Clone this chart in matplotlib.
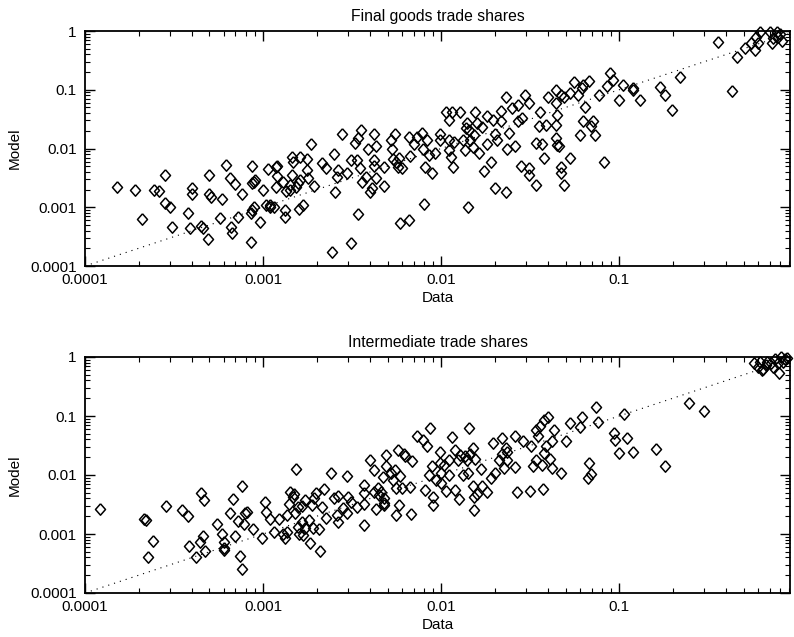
import matplotlib
matplotlib.use("Agg")
import matplotlib.pyplot as plt

plt.rcParams['font.family'] = ['Liberation Sans', 'DejaVu Sans']

# Final goods trade shares: observed (data) vs. predicted (model)
final_data = [
    1.52e-4, 1.9e-4, 2.08e-4, 2.44e-4, 2.6e-4, 2.8e-4, 2.8e-4, 3.0e-4, 3.1e-4, 3.8e-4,
    3.9e-4, 4.0e-4, 4.0e-4, 4.5e-4, 4.6e-4, 4.9e-4, 5.0e-4, 5.0e-4, 5.1e-4, 5.7e-4,
    5.9e-4, 6.2e-4, 6.5e-4, 6.6e-4, 6.7e-4, 7.0e-4, 7.2e-4, 7.6e-4, 8.6e-4, 8.7e-4,
    8.7e-4, 8.9e-4, 9.0e-4, 8.7e-4, 8.9e-4, 8.5e-4, 9.6e-4, 1.0e-3, 1.04e-3, 1.09e-3,
    1.1e-3, 1.15e-3, 1.07e-3, 1.18e-3, 1.2e-3, 1.18e-3, 1.2e-3, 1.29e-3, 1.33e-3, 1.33e-3,
    1.35e-3, 1.41e-3, 1.45e-3, 1.48e-3, 1.45e-3, 1.58e-3, 1.59e-3, 1.41e-3, 1.54e-3, 1.61e-3,
    1.61e-3, 1.68e-3, 1.76e-3, 1.77e-3, 1.79e-3, 1.86e-3, 1.94e-3, 2.14e-3, 2.26e-3, 2.43e-3,
    2.5e-3, 2.55e-3, 2.6e-3, 2.65e-3, 2.77e-3, 2.95e-3, 3.1e-3, 3.1e-3, 3.3e-3, 3.4e-3,
    3.35e-3, 3.4e-3, 3.5e-3, 3.55e-3, 3.6e-3, 3.9e-3, 3.8e-3, 4.0e-3, 4.1e-3, 4.2e-3,
    4.2e-3, 4.3e-3, 4.2e-3, 4.3e-3, 4.8e-3, 4.8e-3, 5.2e-3, 5.3e-3, 5.5e-3, 5.4e-3,
    5.6e-3, 5.7e-3, 5.8e-3, 6.0e-3, 5.9e-3, 6.6e-3, 6.6e-3, 6.7e-3, 7.0e-3, 7.3e-3,
    7.8e-3, 7.9e-3, 8.0e-3, 8.1e-3, 8.3e-3, 8.5e-3, 8.9e-3, 9.2e-3, 9.8e-3, 9.9e-3,
    0.0107, 0.011, 0.011, 0.0114, 0.0116, 0.0115, 0.011, 0.0118, 0.0128, 0.0133,
    0.0137, 0.0138, 0.014, 0.0142, 0.0143, 0.0145, 0.015, 0.0153, 0.0155, 0.0158,
    0.0163, 0.017, 0.0175, 0.018, 0.018, 0.019, 0.0195, 0.020, 0.020, 0.0205,
    0.0216, 0.0216, 0.023, 0.023, 0.0234, 0.024, 0.025, 0.026, 0.027, 0.027,
    0.028, 0.0285, 0.0295, 0.031, 0.031, 0.031, 0.034, 0.034, 0.036, 0.0355,
    0.037, 0.038, 0.039, 0.040, 0.044, 0.044, 0.044, 0.044, 0.045, 0.045,
    0.046, 0.047, 0.047, 0.047, 0.049, 0.049, 0.053, 0.053, 0.056, 0.060,
    0.059, 0.062, 0.063, 0.064, 0.063, 0.068, 0.069, 0.071, 0.073, 0.077,
    0.082, 0.085, 0.089, 0.092, 0.10, 0.105, 0.12, 0.12, 0.13, 0.17,
    0.18, 0.198, 0.22, 0.36, 0.43, 0.46, 0.51, 0.55, 0.58, 0.59,
    0.62, 0.60, 0.70, 0.72, 0.73, 0.77, 0.78, 0.82, 0.80,
]
final_model = [
    2.2e-3, 2.0e-3, 6.2e-4, 2.0e-3, 1.9e-3, 3.6e-3, 1.2e-3, 1.0e-3, 4.6e-4, 7.9e-4,
    4.5e-4, 2.1e-3, 1.7e-3, 4.8e-4, 4.5e-4, 2.9e-4, 3.5e-3, 1.7e-3, 1.5e-3, 6.5e-4,
    1.4e-3, 5.2e-3, 3.1e-3, 4.7e-4, 3.7e-4, 2.5e-3, 6.8e-4, 1.7e-3, 2.6e-4, 5.1e-3,
    2.6e-3, 2.7e-3, 2.9e-3, 9.0e-4, 1.0e-3, 7.9e-4, 5.7e-4, 2.0e-3, 1.1e-3, 1.0e-3,
    1.1e-3, 1.0e-3, 4.5e-3, 4.9e-3, 5.0e-3, 2.2e-3, 3.4e-3, 2.7e-3, 9.0e-4, 6.9e-4,
    1.9e-3, 2.0e-3, 7.1e-3, 6.0e-3, 3.5e-3, 2.6e-3, 9.5e-4, 2.4e-3, 2.2e-3, 7.3e-3,
    2.9e-3, 1.1e-3, 6.6e-3, 4.3e-3, 3.1e-3, 1.2e-2, 2.3e-3, 5.7e-3, 4.6e-3, 1.7e-4,
    8.0e-3, 1.8e-3, 3.3e-3, 4.3e-3, 1.77e-2, 3.8e-3, 2.5e-4, 6.4e-3, 1.26e-2, 1.5e-2,
    6.4e-3, 7.7e-4, 4.6e-3, 2.1e-2, 2.7e-3, 9.7e-3, 3.3e-3, 1.8e-3, 2.1e-3, 6.4e-3,
    1.77e-2, 1.1e-2, 5.0e-3, 3.1e-3, 4.9e-3, 2.3e-3, 1.4e-2, 1.0e-2, 1.77e-2, 6.6e-3,
    5.8e-3, 4.9e-3, 6.8e-3, 4.6e-3, 5.3e-4, 6.1e-4, 1.6e-2, 7.5e-3, 1.2e-2, 1.6e-2,
    1.86e-2, 1.0e-2, 1.14e-3, 4.8e-3, 1.4e-2, 7.7e-3, 3.8e-3, 8.3e-3, 1.77e-2, 1.4e-2,
    4.2e-2, 1.4e-2, 9.5e-3, 7.3e-3, 4.9e-3, 4.2e-2, 3.1e-2, 1.3e-2, 4.1e-2, 1.4e-2,
    9.5e-3, 2.2e-2, 2.75e-2, 1.0e-3, 2.1e-2, 1.4e-2, 1.04e-2, 1.7e-2, 4.1e-2, 2.75e-2,
    8.3e-3, 2.3e-2, 4.2e-3, 1.2e-2, 3.6e-2, 6.0e-3, 3.0e-2, 1.8e-2, 2.1e-3, 1.4e-2,
    4.4e-2, 2.9e-2, 7.6e-2, 1.8e-3, 1.0e-2, 1.86e-2, 4.8e-2, 1.1e-2, 5.5e-2, 2.9e-2,
    5.0e-3, 3.3e-2, 8.1e-2, 3.5e-3, 5.9e-2, 4.6e-3, 2.4e-3, 1.26e-2, 4.2e-2, 2.4e-2,
    1.2e-2, 6.8e-3, 2.5e-2, 7.4e-2, 0.10, 5.9e-2, 2.5e-2, 1.5e-2, 3.7e-2, 1.15e-2,
    1.1e-2, 8.1e-2, 4.9e-3, 3.8e-3, 2.4e-3, 7.6e-2, 6.8e-3, 8.9e-2, 0.137, 1.7e-2,
    8.1e-2, 0.106, 0.12, 5.1e-2, 2.9e-2, 0.143, 2.4e-2, 2.9e-2, 1.7e-2, 8.1e-2,
    6.0e-3, 0.116, 0.19, 0.146, 6.7e-2, 0.12, 0.106, 0.10, 6.7e-2, 0.113,
    8.1e-2, 4.6e-2, 0.167, 0.66, 9.5e-2, 0.36, 0.51, 0.62, 0.47, 0.80,
    0.97, 0.62, 0.97, 0.63, 0.75, 0.97, 0.80, 0.68, 0.90,
]

# Intermediate trade shares: observed (data) vs. predicted (model)
inter_data = [
    1.21e-4, 2.14e-4, 2.2e-4, 2.25e-4, 2.4e-4, 2.85e-4, 3.5e-4, 3.8e-4, 3.85e-4, 4.2e-4,
    4.4e-4, 4.5e-4, 4.65e-4, 4.6e-4, 4.7e-4, 5.5e-4, 5.9e-4, 6.0e-4, 6.0e-4, 6.0e-4,
    6.5e-4, 6.8e-4, 7.0e-4, 7.2e-4, 7.4e-4, 7.6e-4, 7.6e-4, 7.8e-4, 7.9e-4, 8.1e-4,
    8.8e-4, 9.8e-4, 1.03e-3, 1.04e-3, 1.1e-3, 1.15e-3, 1.23e-3, 1.29e-3, 1.33e-3, 1.36e-3,
    1.37e-3, 1.4e-3, 1.42e-3, 1.47e-3, 1.5e-3, 1.54e-3, 1.52e-3, 1.58e-3, 1.57e-3, 1.6e-3,
    1.65e-3, 1.68e-3, 1.72e-3, 1.65e-3, 1.72e-3, 1.8e-3, 1.84e-3, 1.88e-3, 1.92e-3, 1.9e-3,
    1.97e-3, 2.06e-3, 2.1e-3, 2.14e-3, 2.2e-3, 2.26e-3, 2.4e-3, 2.5e-3, 2.6e-3, 2.65e-3,
    2.65e-3, 2.8e-3, 2.95e-3, 2.97e-3, 3.0e-3, 3.1e-3, 3.35e-3, 3.7e-3, 3.7e-3, 3.7e-3,
    3.7e-3, 4.0e-3, 4.2e-3, 4.2e-3, 4.3e-3, 4.4e-3, 4.5e-3, 4.8e-3, 4.9e-3, 4.9e-3,
    4.7e-3, 4.6e-3, 4.8e-3, 4.8e-3, 5.2e-3, 5.4e-3, 5.5e-3, 5.6e-3, 5.6e-3, 5.75e-3,
    5.8e-3, 5.9e-3, 6.0e-3, 6.2e-3, 6.3e-3, 6.7e-3, 6.8e-3, 6.9e-3, 7.3e-3, 7.9e-3,
    8.1e-3, 8.3e-3, 8.6e-3, 8.7e-3, 8.9e-3, 9.0e-3, 9.0e-3, 9.4e-3, 9.8e-3, 9.9e-3,
    0.010, 0.010, 0.0104, 0.0106, 0.011, 0.011, 0.0115, 0.012, 0.012, 0.0125,
    0.0126, 0.0128, 0.0133, 0.0137, 0.014, 0.0142, 0.0144, 0.0146, 0.015, 0.015,
    0.0153, 0.0153, 0.0155, 0.016, 0.0167, 0.017, 0.018, 0.019, 0.0195, 0.020,
    0.021, 0.022, 0.022, 0.0225, 0.023, 0.0234, 0.0235, 0.026, 0.026, 0.0265,
    0.029, 0.0315, 0.032, 0.033, 0.034, 0.034, 0.035, 0.036, 0.037, 0.0375,
    0.038, 0.038, 0.039, 0.040, 0.041, 0.042, 0.043, 0.042, 0.047, 0.050,
    0.053, 0.060, 0.062, 0.067, 0.068, 0.069, 0.074, 0.076, 0.093, 0.095,
    0.10, 0.106, 0.11, 0.12, 0.16, 0.18, 0.245, 0.30, 0.57, 0.60,
    0.62, 0.63, 0.67, 0.68, 0.71, 0.73, 0.75, 0.78, 0.79, 0.81,
    0.83, 0.85, 0.88, 0.64,
]
inter_model = [
    2.7e-3, 1.8e-3, 1.7e-3, 4.1e-4, 7.6e-4, 3.0e-3, 2.6e-3, 2.0e-3, 6.3e-4, 4.1e-4,
    7.4e-4, 5.0e-3, 3.8e-3, 9.3e-4, 5.2e-4, 1.5e-3, 1.0e-3, 7.4e-4, 5.9e-4, 5.3e-4,
    2.3e-3, 3.9e-3, 9.3e-4, 1.65e-3, 4.3e-4, 2.6e-4, 6.6e-3, 1.45e-3, 2.3e-3, 2.4e-3,
    1.2e-3, 8.5e-4, 3.5e-3, 2.4e-3, 1.8e-3, 1.1e-3, 1.8e-3, 1.0e-3, 8.5e-4, 1.1e-3,
    2.1e-3, 3.2e-3, 5.2e-3, 4.3e-3, 4.8e-3, 1.25e-2, 2.3e-3, 2.9e-3, 1.3e-3, 1.0e-3,
    3.0e-3, 9.6e-4, 3.8e-3, 1.6e-3, 1.25e-3, 1.7e-3, 7.1e-4, 3.1e-3, 4.0e-3, 1.25e-3,
    4.9e-3, 1.2e-3, 5.2e-4, 2.9e-3, 5.7e-3, 1.9e-3, 1.1e-2, 4.0e-3, 2.1e-3, 4.4e-3,
    1.6e-3, 2.8e-3, 9.6e-3, 2.3e-3, 4.2e-3, 3.5e-3, 2.9e-3, 6.7e-3, 4.9e-3, 3.2e-3,
    1.4e-3, 1.8e-2, 5.2e-3, 1.2e-2, 2.7e-3, 6.0e-3, 4.6e-3, 3.3e-3, 2.2e-2, 1.4e-2,
    9.3e-3, 5.2e-3, 4.0e-3, 3.1e-3, 1.07e-2, 8.2e-3, 1.2e-2, 6.0e-3, 2.1e-3, 2.65e-2,
    3.1e-3, 9.6e-3, 6.0e-3, 2.3e-2, 2.1e-2, 6.2e-3, 2.2e-3, 1.75e-2, 4.5e-2, 3.9e-2,
    5.6e-3, 3.1e-2, 1.0e-2, 6.2e-2, 1.4e-2, 4.2e-3, 3.1e-3, 8.2e-3, 2.5e-2, 1.6e-2,
    1.1e-2, 7.2e-3, 1.5e-2, 5.4e-3, 1.8e-2, 1.0e-2, 4.4e-2, 2.65e-2, 5.6e-3, 1.8e-2,
    3.9e-3, 2.2e-2, 1.0e-2, 2.1e-2, 1.8e-2, 1.1e-2, 6.2e-2, 2.3e-2, 6.5e-3, 2.9e-2,
    4.3e-3, 2.6e-3, 1.9e-2, 4.8e-3, 1.25e-2, 6.5e-3, 5.2e-3, 8.8e-3, 3.5e-2, 1.07e-2,
    1.8e-2, 2.3e-2, 4.2e-2, 1.3e-2, 2.9e-2, 1.8e-2, 2.5e-2, 4.5e-2, 1.35e-2, 5.2e-3,
    3.8e-2, 5.4e-3, 3.1e-2, 1.4e-2, 5.8e-2, 1.8e-2, 4.5e-2, 6.8e-2, 1.5e-2, 5.7e-3,
    8.6e-2, 2.4e-2, 3.1e-2, 0.098, 1.9e-2, 1.3e-2, 5.8e-2, 3.8e-2, 1.07e-2, 3.7e-2,
    7.7e-2, 6.4e-2, 9.5e-2, 8.8e-3, 1.6e-2, 1.04e-2, 0.14, 8.0e-2, 5.2e-2, 3.9e-2,
    2.4e-2, 0.11, 4.2e-2, 2.5e-2, 2.8e-2, 1.4e-2, 0.168, 0.123, 0.78, 0.68,
    0.83, 0.60, 0.73, 0.83, 0.80, 0.69, 0.91, 0.80, 0.53, 0.99,
    0.83, 0.91, 0.95, 0.62,
]

x_ticks = [1e-4, 1e-3, 1e-2, 1e-1]
x_tick_labels = ['0.0001', '0.001', '0.01', '0.1']
y_ticks = [1e-4, 1e-3, 1e-2, 1e-1, 1]
y_tick_labels = ['0.0001', '0.001', '0.01', '0.1', '1']
x_range = (1e-4, 0.91)
y_range = (1e-4, 1.0)

panels = [
    ('Final goods trade shares', final_data, final_model),
    ('Intermediate trade shares', inter_data, inter_model),
]

# open diamond, slightly taller than wide
diamond = [(0, 1), (0.88, 0), (0, -1), (-0.88, 0), (0, 1)]

fig = plt.figure(figsize=(7.94, 6.37), dpi=100)
W, H = 794.0, 637.0
boxes = [
    [85 / W, 1 - 266 / H, 705 / W, 235 / H],
    [85 / W, 1 - 593 / H, 705 / W, 236 / H],
]

for box, (title, xd, yd) in zip(boxes, panels):
    ax = fig.add_axes(box)
    ax.set_xscale('log')
    ax.set_yscale('log')
    ax.set_xlim(*x_range)
    ax.set_ylim(*y_range)

    # 45-degree reference line
    ax.plot(list(x_range), list(x_range), color='k', lw=0.8,
            ls=(0, (1, 4.5)), zorder=1)

    ax.plot(xd, yd, ls='none', marker=diamond, ms=8.2, mfc='none',
            mec='k', mew=1.1, clip_on=False, zorder=3)

    ax.set_xticks(x_ticks)
    ax.set_xticklabels(x_tick_labels)
    ax.set_yticks(y_ticks)
    ax.set_yticklabels(y_tick_labels)
    ax.tick_params(which='both', direction='in', top=True, right=True,
                   labelsize=11, colors='k')
    ax.tick_params(which='major', length=7, width=1.0)
    ax.tick_params(which='minor', length=3.5, width=0.8)
    ax.tick_params(axis='x', which='major', pad=5)
    ax.tick_params(axis='y', which='major', pad=6)
    for sp in ax.spines.values():
        sp.set_linewidth(1.3)

    ax.set_title(title, fontsize=11.3, pad=7)
    ax.set_xlabel('Data', fontsize=11, labelpad=3)
    ax.set_ylabel('Model', fontsize=11, labelpad=6)

fig.savefig('out.png', dpi=100)
